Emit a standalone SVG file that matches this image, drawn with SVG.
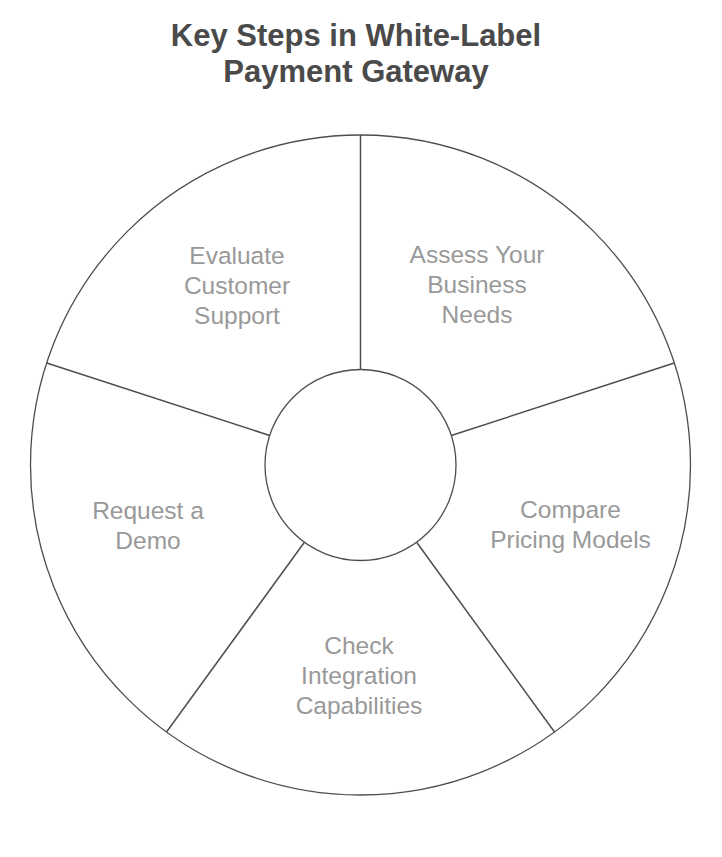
<svg xmlns="http://www.w3.org/2000/svg" width="722" height="857" viewBox="0 0 722 857">
<style>
.title{font-family:"Liberation Sans",Arial,sans-serif;font-weight:bold;font-size:31px;fill:#4a4a4a;text-anchor:middle}
.lbl{font-family:"Liberation Sans",Arial,sans-serif;font-size:24.5px;fill:#999999;text-anchor:middle}
.ring{fill:#ffffff;stroke:#4d4d4d;stroke-width:1.3}
.spoke{stroke:#4d4d4d;stroke-width:1.5;fill:none}
</style>
<rect width="722" height="857" fill="#ffffff"/>
<g id="title">
<text class="title" x="356" y="46">Key Steps in White-Label</text>
<text class="title" x="356" y="82">Payment Gateway</text>
</g>
<g id="outer-circle"><circle class="ring" cx="360.5" cy="465" r="330"/></g>
<g id="connectors">
<line class="spoke" x1="360.5" y1="135" x2="360.5" y2="369.5"/>
<line class="spoke" x1="674.3" y1="363" x2="451.3" y2="435.5"/>
<line class="spoke" x1="554.5" y1="732" x2="416.6" y2="542.3"/>
<line class="spoke" x1="166.5" y1="732" x2="304.4" y2="542.3"/>
<line class="spoke" x1="46.7" y1="363" x2="269.7" y2="435.5"/>
</g>
<g id="center"><circle class="ring" cx="360.5" cy="465" r="95.5"/></g>
<g id="node-assess">
<text class="lbl" x="477" y="263">Assess Your</text>
<text class="lbl" x="477" y="293">Business</text>
<text class="lbl" x="477" y="323">Needs</text>
</g>
<g id="node-compare">
<text class="lbl" x="570.5" y="518">Compare</text>
<text class="lbl" x="570.5" y="548">Pricing Models</text>
</g>
<g id="node-check">
<text class="lbl" x="359" y="654">Check</text>
<text class="lbl" x="359" y="684">Integration</text>
<text class="lbl" x="359" y="714">Capabilities</text>
</g>
<g id="node-demo">
<text class="lbl" x="148" y="519">Request a</text>
<text class="lbl" x="148" y="549">Demo</text>
</g>
<g id="node-evaluate">
<text class="lbl" x="237" y="264">Evaluate</text>
<text class="lbl" x="237" y="294">Customer</text>
<text class="lbl" x="237" y="324">Support</text>
</g>
</svg>
